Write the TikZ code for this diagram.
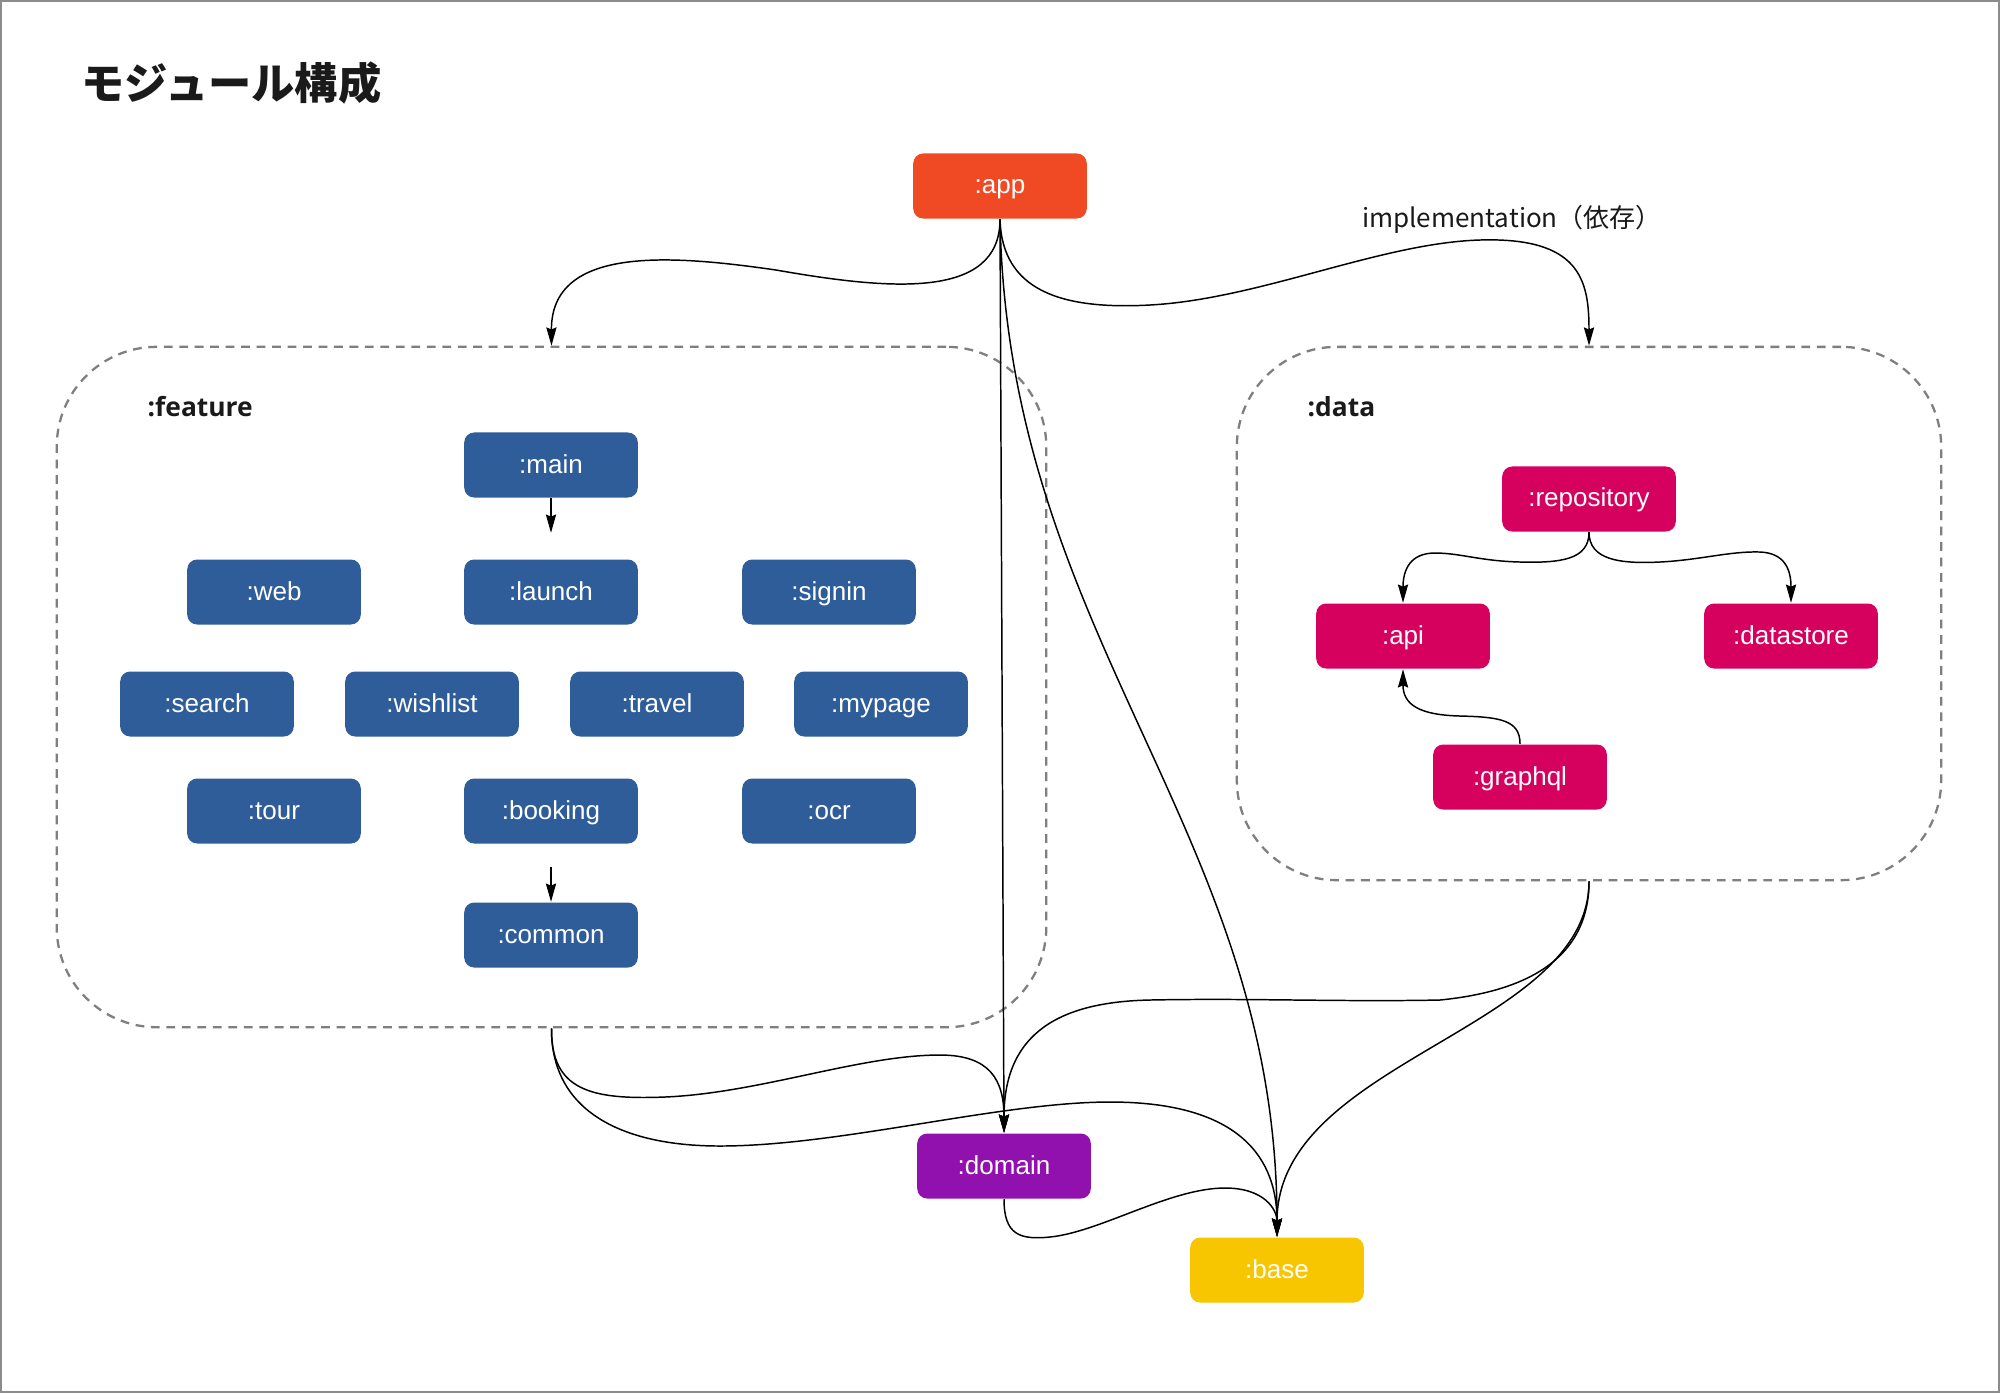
\documentclass[tikz,border=0pt]{standalone}
\usepackage{fontspec}
\setmainfont{Liberation Sans}
\newfontfamily\cjk{Noto Sans CJK JP}
\newfontfamily\opensans{Open Sans}
\usetikzlibrary{arrows.meta}
\definecolor{appred}{HTML}{F04A24}
\definecolor{featblue}{HTML}{2E5D99}
\definecolor{datapink}{HTML}{D6005F}
\definecolor{dompurple}{HTML}{9111AE}
\definecolor{baseyellow}{HTML}{F7C600}
\definecolor{grpgray}{HTML}{7F7F7F}
\definecolor{txtdark}{HTML}{1A1A1A}
\tikzset{
  mod/.style={rectangle, rounded corners=0.1cm, minimum width=1.735cm, minimum height=0.65cm,
    inner sep=0pt, text=white, text height=5.4pt, text depth=0.86pt,
    font=\fontsize{7.4pt}{9pt}\selectfont},
  feat/.style={mod, fill=featblue},
  dat/.style={mod, fill=datapink},
  grp/.style={rectangle, draw=grpgray, line width=0.65pt, dash pattern=on 2.5pt off 1.9pt,
    rounded corners=1cm, inner sep=0pt},
  grplabel/.style={anchor=west, text=txtdark, inner sep=0pt, font=\opensans\bfseries\fontsize{7.5pt}{9pt}\selectfont},
  dep/.style={draw=black, line width=0.42pt, -{Stealth[length=5.2pt,width=2.9pt,inset=0.6pt]}}
}
\begin{document}
\begin{tikzpicture}[x=0.01cm,y=-0.01cm]
\useasboundingbox (0,0) rectangle (2000,1393);
\fill[white] (0,0) rectangle (2000,1393);
\draw[line width=0.6pt, draw=black!45] (1,1) rectangle (1999,1392);

% title
\node[anchor=west, inner sep=0pt, text=txtdark, font=\cjk\bfseries\fontsize{12.3pt}{14pt}\selectfont] (title) at (81,83) {モジュール構成};

% groups
\node[grp, minimum width=9.89cm, minimum height=6.8cm] (feature) at (551.5,687) {};
\node[grp, minimum width=7.04cm, minimum height=5.33cm] (data) at (1589,613.5) {};
\node[grplabel] (featurelabel) at (147,407) {:feature};
\node[grplabel] (datalabel) at (1307,407) {:data};

% top / bottom modules
\node[mod, fill=appred] (app) at (1000,186) {:app};
\node[mod, fill=dompurple] (domain) at (1004,1166) {:domain};
\node[mod, fill=baseyellow] (base) at (1277,1270) {:base};

% feature modules
\node[feat] (main) at (551,465) {:main};
\node[feat] (web) at (274,592) {:web};
\node[feat] (launch) at (551,592) {:launch};
\node[feat] (signin) at (829,592) {:signin};
\node[feat] (search) at (207,704) {:search};
\node[feat] (wishlist) at (432,704) {:wishlist};
\node[feat] (travel) at (657,704) {:travel};
\node[feat] (mypage) at (881,704) {:mypage};
\node[feat] (tour) at (274,811) {:tour};
\node[feat] (booking) at (551,811) {:booking};
\node[feat] (ocr) at (829,811) {:ocr};
\node[feat] (common) at (551,935) {:common};

% data modules
\node[dat] (repository) at (1589,499) {:repository};
\node[dat] (api) at (1403,636) {:api};
\node[dat] (datastore) at (1791,636) {:datastore};
\node[dat] (graphql) at (1520,777) {:graphql};

% label
\node[inner sep=0pt, text=txtdark, font=\cjk\fontsize{7.4pt}{9pt}\selectfont] (impl) at (1512,219) {implementation（依存）};

% connectors from app
\draw[dep] (app.south) .. controls (1000,300) and (890,290) .. (776,270)
  .. controls (672,255) and (551,245) .. (feature.north);
\draw[dep] (app.south) .. controls (1002,290) and (1060,310) .. (1150,305)
  .. controls (1260,299) and (1380,243) .. (1480,240)
  .. controls (1580,237) and (1589,280) .. (data.north);
\draw[dep] (app.south) -- (domain.north);
\draw[dep] (app.south) .. controls (1008,640) and (1277,830) .. (base.north);

% inside feature
\draw[dep] (main.south) -- ([yshift=0.26cm]launch.north);
\draw[dep] ([yshift=-0.23cm]booking.south) -- (common.north);

% inside data
\draw[dep] (repository.south) .. controls (1589,560) and (1560,563) .. (1520,562)
  .. controls (1480,561) and (1460,553) .. (1435,553)
  .. controls (1410,553) and (1403,570) .. (api.north);
\draw[dep] (repository.south) .. controls (1589,560) and (1620,564) .. (1660,562)
  .. controls (1700,560) and (1730,551) .. (1760,552)
  .. controls (1785,553) and (1791,570) .. (datastore.north);
\draw[dep] (graphql.north) .. controls (1520,720) and (1500,717) .. (1460,716)
  .. controls (1420,715) and (1403,705) .. (api.south);

% feature group to domain / base
\draw[dep] (feature.south) .. controls (551,1090) and (590,1100) .. (665,1097)
  .. controls (760,1093) and (860,1055) .. (940,1055)
  .. controls (990,1055) and (1004,1080) .. (domain.north);
\draw[dep] (feature.south) .. controls (551,1110) and (620,1146) .. (720,1146)
  .. controls (840,1146) and (1000,1102) .. (1110,1102)
  .. controls (1230,1102) and (1277,1150) .. (base.north);

% data group to domain / base
\draw[dep] (data.south) .. controls (1589,950) and (1540,990) .. (1440,1000)
  .. controls (1340,1002) and (1250,998) .. (1150,1000)
  .. controls (1050,1002) and (1004,1040) .. (domain.north);
\draw[dep] (data.south) .. controls (1589,1030) and (1277,1060) .. (base.north);

% domain to base
\draw[dep] (domain.south) .. controls (1004,1235) and (1020,1240) .. (1050,1237)
  .. controls (1100,1232) and (1170,1188) .. (1225,1188)
  .. controls (1265,1188) and (1277,1210) .. (base.north);
\end{tikzpicture}
\end{document}
